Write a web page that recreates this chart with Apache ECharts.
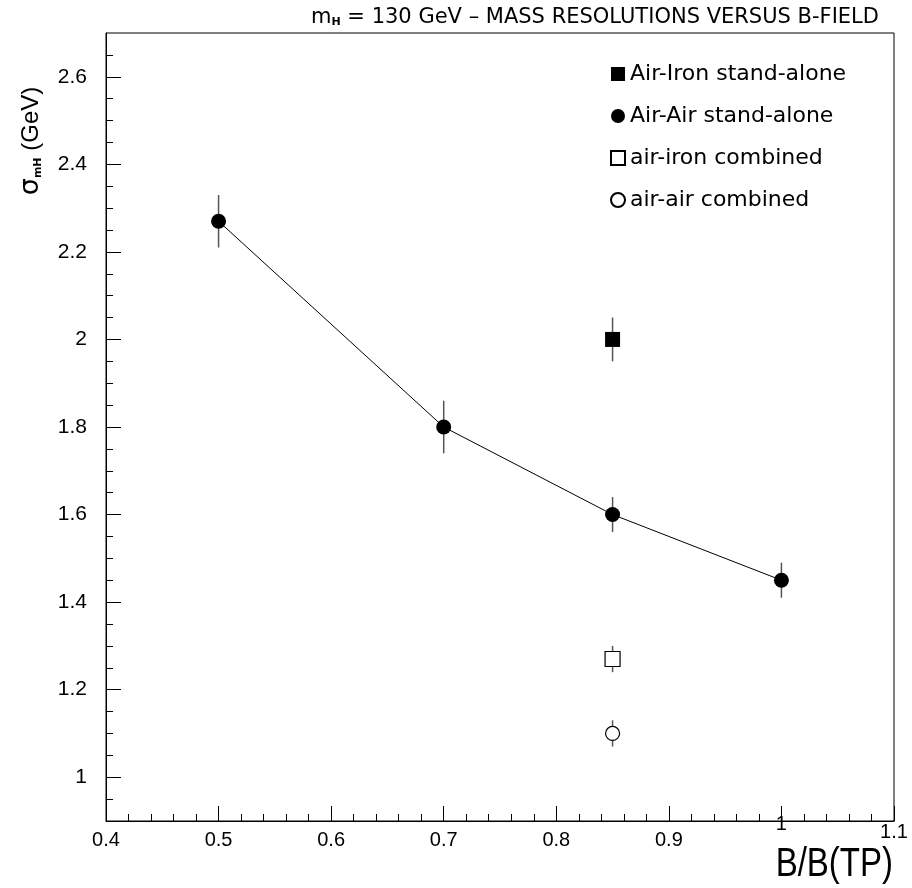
<!DOCTYPE html>
<html><head><meta charset="utf-8">
<script src="https://cdn.jsdelivr.net/npm/echarts@6/dist/echarts.min.js"></script>
<style>html,body{margin:0;padding:0;background:#fff}#c{width:912px;height:888px}</style>
</head><body><div id="c"></div>
<script>
// ---- data ----
const airAirX = [0.5, 0.7, 0.85, 1.0];
const airAirY = [2.27, 1.80, 1.60, 1.45];
const airAirErr = [0.06, 0.06, 0.04, 0.04];
const airIronX = [0.85];
const airIronY = [2.00];
const airIronErr = [0.05];
const airIronCombX = [0.85];
const airIronCombY = [1.27];
const airIronCombErr = [0.03];
const airAirCombX = [0.85];
const airAirCombY = [1.10];
const airAirCombErr = [0.03];
const xRaisedLabels = [1.0, 1.1];
const yMajorTicks = [1.0, 1.2, 1.4, 1.6, 1.8, 2.0, 2.2, 2.4, 2.6];
const yMinorTicks = [0.95, 1.05, 1.1, 1.15, 1.25, 1.3, 1.35, 1.45, 1.5, 1.55, 1.65, 1.7, 1.75, 1.85, 1.9, 1.95, 2.05, 2.1, 2.15, 2.25, 2.3, 2.35, 2.45, 2.5, 2.55, 2.65];
const seriesNames = ['Air-Iron stand-alone', 'Air-Air stand-alone', 'air-iron combined', 'air-air combined'];

const pairs = (xs, ys) => xs.map((x, i) => [x, ys[i]]);
const errItems = [];
[[airAirX, airAirY, airAirErr], [airIronX, airIronY, airIronErr],
 [airIronCombX, airIronCombY, airIronCombErr], [airAirCombX, airAirCombY, airAirCombErr]]
  .forEach(([xs, ys, es]) => xs.forEach((x, i) => errItems.push([x, ys[i], es[i]])));

const FONT = 'Liberation Sans';
const WIDE = 'DejaVu Sans';
const fmt = v => String(Math.round(v * 10) / 10);
const chart = echarts.init(document.getElementById('c'), null, {renderer: 'canvas'});
chart.setOption({
  animation: false,
  backgroundColor: '#fff',
  grid: {left: 106, right: 18, top: 33, bottom: 67, show: true, borderColor: '#000', borderWidth: 1, backgroundColor: 'transparent'},
  xAxis: {
    type: 'value', min: 0.4, max: 1.1, interval: 0.1,
    axisLine: {lineStyle: {color: '#000', width: 1}},
    axisTick: {inside: true, length: 15, lineStyle: {color: '#000'}},
    minorTick: {show: true, splitNumber: 5, length: 7, lineStyle: {color: '#000'}},
    splitLine: {show: false},
    axisLabel: {
      color: '#000', fontFamily: FONT, fontSize: 20, margin: 9, showMinLabel: true, showMaxLabel: true,
      formatter: v => (xRaisedLabels.some(r => fmt(r) === fmt(v)) ? '' : fmt(v))
    }
  },
  yAxis: [{
    type: 'value', min: 0.9, max: 2.7,
    axisLine: {show: true, lineStyle: {color: '#000', width: 1}},
    axisTick: {show: true, inside: true, length: 15, customValues: yMajorTicks, lineStyle: {color: '#000'}},
    axisLabel: {color: '#000', fontFamily: FONT, fontSize: 21, margin: 19, customValues: yMajorTicks},
    splitLine: {show: false}
  }, {
    type: 'value', min: 0.9, max: 2.7, position: 'left',
    axisLine: {show: false},
    axisTick: {show: true, inside: true, length: 7, customValues: yMinorTicks, lineStyle: {color: '#000'}},
    axisLabel: {show: false},
    splitLine: {show: false}
  }],
  legend: {
    orient: 'vertical', left: 605, top: 58, itemWidth: 14, itemHeight: 14, itemGap: 20,
    selectedMode: false,
    textStyle: {fontFamily: WIDE, fontSize: 22, lineHeight: 22, color: '#000'},
    data: [
      {name: seriesNames[0], icon: 'rect'},
      {name: seriesNames[1], icon: 'circle'},
      {name: seriesNames[2], icon: 'rect'},
      {name: seriesNames[3], icon: 'circle'}
    ]
  },
  title: {
    text: '{m|m}{sub|H}{t| = 130 GeV – MASS RESOLUTIONS VERSUS B-FIELD}',
    left: 590, top: 2, textAlign: 'center',
    textStyle: {fontWeight: 'normal', rich: {
      m: {fontFamily: WIDE, fontSize: 21, fontWeight: 'normal', color: '#000'},
      sub: {fontFamily: WIDE, fontSize: 11, fontWeight: 'bold', color: '#000', verticalAlign: 'bottom', padding: [9, 0, 0, 0]},
      t: {fontFamily: WIDE, fontSize: 21, fontWeight: 'normal', color: '#000'}
    }}
  },
  graphic: [{
    type: 'text', x: 31, y: 141, rotation: Math.PI / 2,
    style: {
      text: '{s|σ}{sub|mH}{t| (GeV)}', align: 'center', verticalAlign: 'middle',
      rich: {
        s: {fontFamily: WIDE, fontSize: 27, fill: '#000'},
        sub: {fontFamily: WIDE, fontSize: 11, fontWeight: 'bold', fill: '#000', padding: [14, 0, 0, 0]},
        t: {fontFamily: FONT, fontSize: 24, fill: '#000'}
      }
    }
  }, {
    type: 'text', x: 893, y: 885, scaleY: 1.25,
    style: {text: 'B/B(TP)', fontFamily: FONT, fontSize: 33, fill: '#000', align: 'right', verticalAlign: 'bottom'}
  }],
  series: [{
    type: 'line', data: pairs(airAirX, airAirY), symbol: 'none', silent: true, z: 2,
    lineStyle: {color: '#000', width: 1}
  }, {
    type: 'custom', data: errItems, z: 3, silent: true,
    renderItem: (params, api) => {
      const x = api.value(0), y = api.value(1), e = api.value(2);
      const p1 = api.coord([x, y - e]), p2 = api.coord([x, y + e]);
      return {type: 'line', shape: {x1: p1[0], y1: p1[1], x2: p2[0], y2: p2[1]},
              style: {stroke: '#555', lineWidth: 1.5}};
    }
  }, {
    name: seriesNames[0], type: 'scatter', data: pairs(airIronX, airIronY), symbol: 'rect', symbolSize: 15, z: 5,
    itemStyle: {color: '#000', opacity: 1}
  }, {
    name: seriesNames[1], type: 'scatter', data: pairs(airAirX, airAirY), symbol: 'circle', symbolSize: 15, z: 5,
    itemStyle: {color: '#000', opacity: 1}
  }, {
    name: seriesNames[2], type: 'scatter', data: pairs(airIronCombX, airIronCombY), symbol: 'rect', symbolSize: 15, z: 5,
    itemStyle: {color: '#fff', borderColor: '#000', borderWidth: 1.2, opacity: 1}
  }, {
    name: seriesNames[3], type: 'scatter', data: pairs(airAirCombX, airAirCombY), symbol: 'circle', symbolSize: 14, z: 5,
    itemStyle: {color: '#fff', borderColor: '#000', borderWidth: 1.2, opacity: 1}
  }]
});
// raised tick labels at x = 1 and 1.1, placed through the x scale
const raiseBy = [16, 8];
const extra = xRaisedLabels.map((v, i) => {
  const p = chart.convertToPixel({xAxisIndex: 0, yAxisIndex: 0}, [v, 0.9]);
  return {type: 'text', x: p[0], y: p[1] + 9 - raiseBy[i],
          style: {text: fmt(v), fontFamily: FONT, fontSize: 20, fill: '#000', align: 'center', verticalAlign: 'top'}};
});
chart.setOption({graphic: [{}, {}].concat(extra)});
</script></body></html>
